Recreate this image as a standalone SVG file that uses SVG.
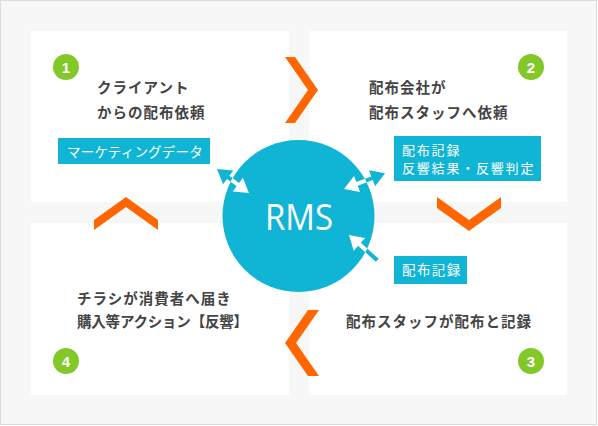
<svg xmlns="http://www.w3.org/2000/svg" xmlns:xlink="http://www.w3.org/1999/xlink" width="598" height="426" viewBox="0 0 598 426">
<style>
.panel{fill:#fff}
.chev{fill:#ff6600}
.num circle{fill:#82c828}
.num text{fill:#fff;font-family:"Liberation Sans",Arial,sans-serif;font-weight:bold;font-size:15px;text-anchor:middle}
.dark{fill:#444;font-family:"Noto Sans CJK JP",sans-serif;font-weight:bold;font-size:14.5px;letter-spacing:1px}
.lbl rect{fill:#10b5d5}
.lbl text{fill:#fff;font-family:"Noto Sans CJK JP",sans-serif;font-size:13.5px;letter-spacing:1.4px}
.lbl text.sm{font-size:13px;letter-spacing:1.8px}
</style>
<defs>
<clipPath id="cin"><circle cx="298.5" cy="216" r="76"/></clipPath>
<clipPath id="cout"><path clip-rule="evenodd" d="M0 0H598V426H0Z M222.5 216a76 76 0 1 0 152 0a76 76 0 1 0 -152 0Z"/></clipPath>
<path id="a1" d="M0 0L14 -8.5L14 -2L26 -2L26 -8.5L40 0L26 8.5L26 2L14 2L14 8.5Z" transform="translate(217,169) rotate(36.9)"/>
<path id="a2" d="M0 0L14 -8.5L14 -2L30 -2L30 -8.5L44 0L30 8.5L30 2L14 2L14 8.5Z" transform="translate(344,189) rotate(-21)"/>
<path id="a3" d="M0 0L14 -8.5L14 -2L38 -2L38 2L14 2L14 8.5Z" transform="translate(349,235) rotate(41.8)"/>
</defs>
<rect x="0.5" y="0.5" width="596" height="424" fill="#f7f7f7" stroke="#dcdcdc"/>
<g id="panel1">
<rect class="panel" x="31" y="31" width="258" height="171"/>
<g class="num"><circle cx="66" cy="67" r="13"/><text x="66" y="72.5">1</text></g>
<text class="dark" x="97" y="93">クライアント</text>
<text class="dark" x="97" y="118">からの配布依頼</text>
</g>
<g id="panel2">
<rect class="panel" x="309" y="31" width="258" height="171"/>
<g class="num"><circle cx="531" cy="67" r="13"/><text x="531" y="72.5">2</text></g>
<text class="dark" x="369" y="93">配布会社が</text>
<text class="dark" x="369" y="118">配布スタッフへ依頼</text>
</g>
<g id="panel4">
<rect class="panel" x="31" y="223" width="258" height="172"/>
<g class="num"><circle cx="66" cy="361" r="13"/><text x="66" y="366.5">4</text></g>
<text class="dark" x="77" y="304">チラシが消費者へ届き</text>
<text class="dark" x="77" y="327" style="letter-spacing:-0.2px">購入等アクション【反響】</text>
</g>
<g id="panel3">
<rect class="panel" x="309" y="223" width="258" height="172"/>
<g class="num"><circle cx="531" cy="361" r="13"/><text x="531" y="366.5">3</text></g>
<text class="dark" x="346" y="327">配布スタッフが配布と記録</text>
</g>
<g id="chevrons">
<polygon class="chev" points="285,57 295,57 318,90 295,123 285,123 308,90"/>
<polygon class="chev" points="437,197 469,220 501,197 501,208 469,231 437,208"/>
<polygon class="chev" points="308,310 319,310 296,343 319,376 308,376 285,343"/>
<polygon class="chev" points="94,220 126,197 158,220 158,230 126,207 94,230"/>
</g>
<g id="rms">
<circle cx="298.5" cy="216" r="76" fill="#10b5d5"/>
<text x="299" y="230" fill="#fff" font-family="'Open Sans','Noto Sans',sans-serif" font-size="36" text-anchor="middle" textLength="68" lengthAdjust="spacingAndGlyphs">RMS</text>
</g>
<g id="label-marketing" class="lbl">
<rect x="58" y="138" width="152" height="26"/>
<text x="67" y="157" style="letter-spacing:0.2px">マーケティングデータ</text>
</g>
<g id="label-record-result" class="lbl">
<rect x="394" y="136" width="147" height="45"/>
<text class="sm" x="402" y="155">配布記録</text>
<text class="sm" x="402" y="173">反響結果・反響判定</text>
</g>
<g id="label-record" class="lbl">
<rect x="394" y="256" width="73" height="28"/>
<text x="402" y="275">配布記録</text>
</g>
<g id="connectors">
<use xlink:href="#a1" fill="#10b5d5" clip-path="url(#cout)"/>
<use xlink:href="#a1" fill="#fff" clip-path="url(#cin)"/>
<use xlink:href="#a2" fill="#10b5d5" clip-path="url(#cout)"/>
<use xlink:href="#a2" fill="#fff" clip-path="url(#cin)"/>
<use xlink:href="#a3" fill="#10b5d5" clip-path="url(#cout)"/>
<use xlink:href="#a3" fill="#fff" clip-path="url(#cin)"/>
</g>
</svg>
